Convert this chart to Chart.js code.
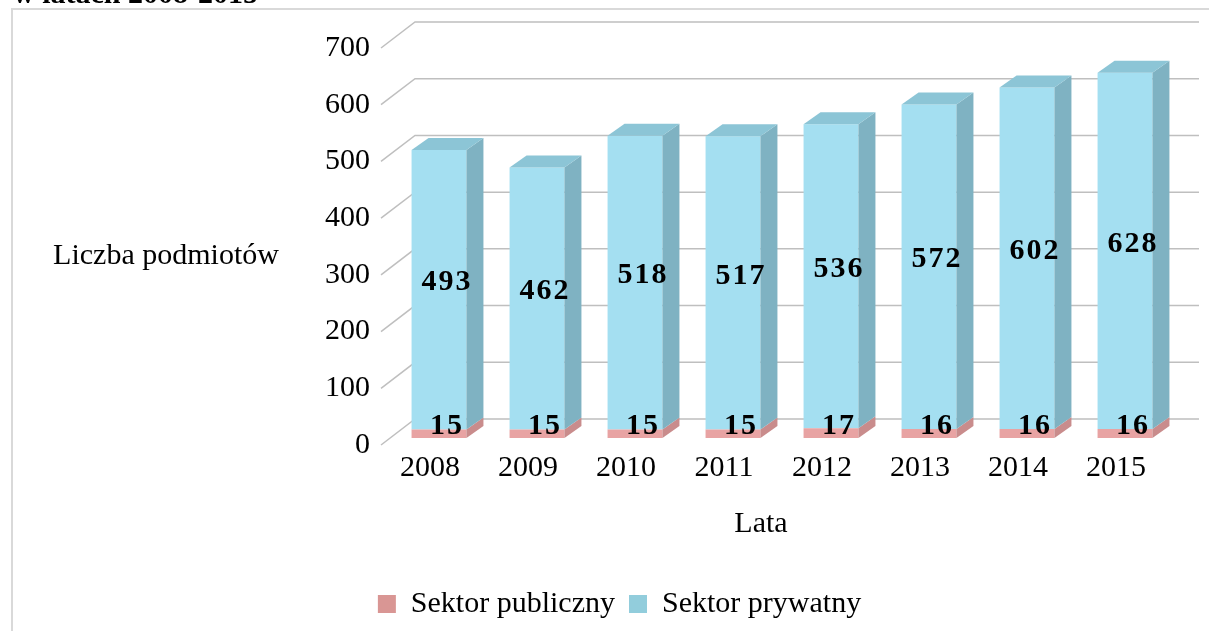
<!DOCTYPE html>
<html>
<head>
<meta charset="utf-8">
<script src="https://cdn.jsdelivr.net/npm/chart.js@4"></script>
<style>
  body { margin: 0; background: #fff; }
  #wrap { width: 1209px; height: 631px; position: relative; }
</style>
</head>
<body>
<div id="wrap"><canvas id="chart1" width="1209" height="631"></canvas></div>
<script>
var years = ['2008', '2009', '2010', '2011', '2012', '2013', '2014', '2015'];
var sektorPubliczny = [15, 15, 15, 15, 17, 16, 16, 16];
var sektorPrywatny = [493, 462, 518, 517, 536, 572, 602, 628];
var seriesNames = ['Sektor publiczny', 'Sektor prywatny'];
var yTicks = [0, 100, 200, 300, 400, 500, 600, 700];

// front / side / top colours for each series
var frontColors = ['#e8a3a3', '#a4dff1'];
var sideColors = ['#c98c8c', '#7fb2c2'];
var topColors = ['#d79a9a', '#8cc5d6'];
var legendColors = ['#d99694', '#92cddc'];

var FONT = "'Liberation Serif', 'Times New Roman', serif";

// depth of one bar, and of the whole back wall
var barDX = 17, barDY = 12;
var frontDX = -9, frontDY = 7;
var backDX = 25, backDY = -19;
var padLeft = 65, padBottom = 2;

var wallPlugin = {
    id: 'wall3d',
    beforeDraw: function (chart) {
        var ctx = chart.ctx;
        ctx.save();
        ctx.fillStyle = '#fff';
        ctx.fillRect(0, 0, chart.width, chart.height);
        // outer frame
        ctx.strokeStyle = '#d9d9d9';
        ctx.lineWidth = 2;
        ctx.strokeRect(12, 9, 1400, 800);
        // cut-off heading above the frame
        ctx.fillStyle = '#000';
        ctx.font = 'bold 30px ' + FONT;
        ctx.textBaseline = 'alphabetic';
        ctx.textAlign = 'left';
        ctx.fillText('w latach 2008-2015', 13, 3);
        // axis titles
        ctx.font = '30px ' + FONT;
        ctx.textAlign = 'center';
        ctx.textBaseline = 'middle';
        ctx.fillText('Liczba podmiotów', 166, 256);
        ctx.fillText('Lata', 761, 524);
        ctx.restore();
    },
    beforeDatasetsDraw: function (chart) {
        var ctx = chart.ctx;
        var y = chart.scales.y;
        var area = chart.chartArea;
        ctx.save();
        ctx.strokeStyle = '#bfbfbf';
        ctx.lineWidth = 1.5;
        yTicks.forEach(function (v) {
            var py = y.getPixelForValue(v);
            ctx.beginPath();
            ctx.moveTo(area.left + frontDX, py + frontDY);
            ctx.lineTo(area.left + backDX, py + backDY);
            ctx.lineTo(area.right + backDX, py + backDY);
            ctx.stroke();
        });
        ctx.restore();
    },
    afterDatasetsDraw: function (chart) {
        var ctx = chart.ctx;
        var last = chart.data.datasets.length - 1;
        ctx.save();
        chart.data.datasets.forEach(function (ds, i) {
            var meta = chart.getDatasetMeta(i);
            meta.data.forEach(function (bar) {
                var l = bar.x - bar.width / 2;
                var r = bar.x + bar.width / 2;
                var top = bar.y;
                var base = bar.base;
                ctx.fillStyle = sideColors[i];
                ctx.beginPath();
                ctx.moveTo(r, top);
                ctx.lineTo(r + barDX, top - barDY);
                ctx.lineTo(r + barDX, base - barDY);
                ctx.lineTo(r, base);
                ctx.closePath();
                ctx.fill();
                if (i === last) {
                    ctx.fillStyle = topColors[i];
                    ctx.beginPath();
                    ctx.moveTo(l, top);
                    ctx.lineTo(l + barDX, top - barDY);
                    ctx.lineTo(r + barDX, top - barDY);
                    ctx.lineTo(r, top);
                    ctx.closePath();
                    ctx.fill();
                }
            });
        });
        // value labels
        ctx.fillStyle = '#000';
        ctx.font = 'bold 30px ' + FONT;
        ctx.letterSpacing = '2px';
        ctx.textAlign = 'center';
        ctx.textBaseline = 'middle';
        chart.data.datasets.forEach(function (ds, i) {
            var meta = chart.getDatasetMeta(i);
            meta.data.forEach(function (bar, j) {
                ctx.fillText(String(ds.data[j]), bar.x + 8, (bar.y + bar.base) / 2 - 7);
            });
        });
        ctx.restore();
    }
};

var ctx = document.getElementById('chart1').getContext('2d');
var myChart1 = new Chart(ctx, {
    type: 'bar',
    data: {
        labels: years,
        datasets: [{
            label: seriesNames[0],
            data: sektorPubliczny,
            backgroundColor: frontColors[0],
            borderWidth: 0
        }, {
            label: seriesNames[1],
            data: sektorPrywatny,
            backgroundColor: frontColors[1],
            borderWidth: 0
        }]
    },
    options: {
        responsive: false,
        animation: false,
        datasets: {
            bar: { barPercentage: 0.56, categoryPercentage: 1 }
        },
        layout: {
            padding: { left: padLeft, top: 41, right: 35, bottom: padBottom }
        },
        plugins: {
            tooltip: { enabled: false },
            legend: {
                position: 'bottom',
                labels: {
                    color: '#000',
                    font: { family: FONT, size: 30 },
                    boxWidth: 18,
                    boxHeight: 18,
                    padding: 14,
                    generateLabels: function (chart) {
                        return seriesNames.map(function (n, i) {
                            return {
                                text: n,
                                fillStyle: legendColors[i],
                                strokeStyle: legendColors[i],
                                lineWidth: 0,
                                fontColor: '#000',
                                datasetIndex: i
                            };
                        });
                    }
                }
            }
        },
        scales: {
            x: {
                stacked: true,
                grid: { display: false, drawTicks: false },
                border: { display: false },
                ticks: {
                    color: '#000',
                    font: { family: FONT, size: 30 },
                    padding: 12,
                    labelOffset: -9,
                    maxRotation: 0
                },
                afterFit: function (scale) {
                    var lh = scale.chart.legend ? scale.chart.legend.height : 64;
                    scale.height = 631 - 438 - lh - padBottom;
                }
            },
            y: {
                stacked: true,
                min: 0,
                max: 700,
                grid: { display: false, drawTicks: false },
                border: { display: false },
                ticks: {
                    stepSize: 100,
                    color: '#000',
                    font: { family: FONT, size: 30 },
                    padding: 20,
                    labelOffset: 7
                },
                afterFit: function (scale) {
                    scale.width = 390 - padLeft;
                }
            }
        }
    },
    plugins: [wallPlugin]
});
</script>
</body>
</html>
